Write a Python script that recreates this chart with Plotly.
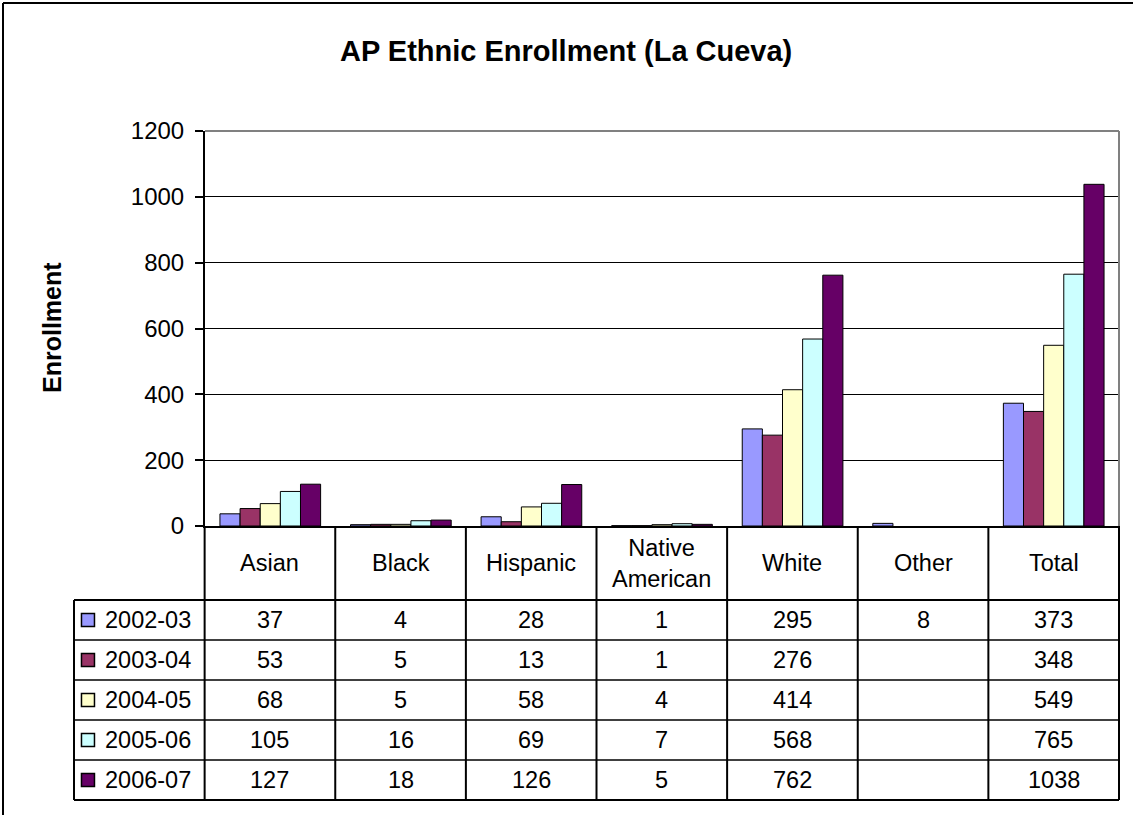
import plotly.graph_objects as go

# ---------------- data ----------------
categories = ["Asian", "Black", "Hispanic", "Native American", "White", "Other", "Total"]
years = ["2002-03", "2003-04", "2004-05", "2005-06", "2006-07"]
v2002_03 = [37, 4, 28, 1, 295, 8, 373]
v2003_04 = [53, 5, 13, 1, 276, None, 348]
v2004_05 = [68, 5, 58, 4, 414, None, 549]
v2005_06 = [105, 16, 69, 7, 568, None, 765]
v2006_07 = [127, 18, 126, 5, 762, None, 1038]
y_ticks = [0, 200, 400, 600, 800, 1000, 1200]

series = [v2002_03, v2003_04, v2004_05, v2005_06, v2006_07]
colors = ["#9999FF", "#993366", "#FFFFCC", "#CCFFFF", "#660066"]

W, H = 1133, 815
FONT = "Liberation Sans, Arial, sans-serif"

def px_x(p):
    return p / W

def px_y(p):
    return 1 - p / H

fig = go.Figure()

# ---------------- bars ----------------
for name, vals, col in zip(years, series, colors):
    fig.add_trace(go.Bar(
        x=categories, y=vals, name=name,
        marker=dict(color=col, line=dict(color="black", width=1)),
        showlegend=False, xaxis="x", yaxis="y",
    ))

# ---------------- table geometry (in table-axis units) ----------------
HEADER = 1.85          # header row height (row units)
n_rows = len(years)
row_top = [HEADER + r for r in range(n_rows)]
row_mid = [HEADER + r + 0.5 for r in range(n_rows)]
table_bottom = HEADER + n_rows
LEFT = -1.5            # left edge of legend column
KEY_X = -1.393
LABEL_X = -1.278

# legend keys
fig.add_trace(go.Scatter(
    x=[KEY_X] * n_rows, y=row_mid, mode="markers",
    marker=dict(symbol="square", size=13, color=colors,
                line=dict(color="black", width=1.5)),
    showlegend=False, hoverinfo="skip", xaxis="x2", yaxis="y2", cliponaxis=False,
))

shapes = []
ann = []

# horizontal table lines
for yv in [HEADER] + row_top[1:] + [table_bottom]:
    shapes.append(dict(type="line", xref="x2", yref="y2", x0=LEFT, x1=len(categories) - 0.5,
                       y0=yv, y1=yv, line=dict(color="black", width=2 if yv in (HEADER, table_bottom) else 1.5)))
# vertical table lines
for k in range(len(categories) + 1):
    shapes.append(dict(type="line", xref="x2", yref="y2", x0=k - 0.5, x1=k - 0.5,
                       y0=0, y1=table_bottom, line=dict(color="black", width=2)))
shapes.append(dict(type="line", xref="x2", yref="y2", x0=LEFT, x1=LEFT,
                   y0=HEADER, y1=table_bottom, line=dict(color="black", width=2)))

# plot-area gray border (top / right)
shapes.append(dict(type="line", xref="x domain", yref="y domain", x0=0, x1=1, y0=1, y1=1,
                   line=dict(color="#808080", width=2), layer="above"))
shapes.append(dict(type="line", xref="x domain", yref="y domain", x0=1, x1=1, y0=0, y1=1,
                   line=dict(color="#808080", width=2), layer="above"))

# outer chart border (left and top edges visible)
shapes.append(dict(type="line", xref="paper", yref="paper", x0=px_x(3), x1=1,
                   y0=px_y(3), y1=px_y(3), line=dict(color="black", width=2)))
shapes.append(dict(type="line", xref="paper", yref="paper", x0=px_x(3), x1=px_x(3),
                   y0=0, y1=px_y(3), line=dict(color="black", width=2)))

# header labels
for i, c in enumerate(categories):
    ann.append(dict(xref="x2", yref="y2", x=i, y=HEADER / 2, text=c.replace(" ", "<br>"),
                    showarrow=False, font=dict(family=FONT, size=23.5, color="black"),
                    xanchor="center", yanchor="middle"))
# data cells
for r, (name, vals) in enumerate(zip(years, series)):
    ann.append(dict(xref="x2", yref="y2", x=LABEL_X, y=row_mid[r], text=name,
                    showarrow=False, font=dict(family=FONT, size=23.5, color="black"),
                    xanchor="left", yanchor="middle"))
    for i, v in enumerate(vals):
        if v is None:
            continue
        ann.append(dict(xref="x2", yref="y2", x=i, y=row_mid[r], text=str(v),
                        showarrow=False, font=dict(family=FONT, size=23.5, color="black"),
                        xanchor="center", yanchor="middle"))

# title and y-axis title
ann.append(dict(xref="paper", yref="paper", x=px_x(566), y=px_y(51),
                text="AP Ethnic Enrollment (La Cueva)", showarrow=False,
                font=dict(family=FONT, size=29, color="black", weight="bold"),
                xanchor="center", yanchor="middle"))
ann.append(dict(xref="paper", yref="paper", x=px_x(52), y=px_y(328),
                text="Enrollment", showarrow=False, textangle=-90,
                font=dict(family=FONT, size=25, color="black", weight="bold"),
                xanchor="center", yanchor="middle"))

unit = 130.6
fig.update_layout(
    template="none",
    width=W, height=H, autosize=False,
    margin=dict(l=0, r=0, t=0, b=0, pad=0, autoexpand=False),
    paper_bgcolor="white", plot_bgcolor="rgba(0,0,0,0)",
    barmode="group", bargap=0.229, bargroupgap=0,
    showlegend=False,
    font=dict(family=FONT, color="black"),
    xaxis=dict(domain=[px_x(205), px_x(1119)], type="category", range=[-0.5, 6.5],
               showticklabels=False, ticks="", showgrid=False, zeroline=False, automargin=False,
               showline=True, linecolor="black", linewidth=2, anchor="y", fixedrange=True),
    yaxis=dict(domain=[px_y(526), px_y(131)], range=[0, 1200], tickvals=y_ticks,
               showgrid=True, gridcolor="black", gridwidth=1, zeroline=False, automargin=False,
               showline=True, linecolor="black", linewidth=2,
               ticks="outside", ticklen=8, tickwidth=2, tickcolor="black",
               ticklabelstandoff=6,
               tickfont=dict(family=FONT, size=24, color="black"), anchor="x", fixedrange=True),
    xaxis2=dict(domain=[px_x(68), px_x(1125)],
                range=[LEFT - 6 / unit, len(categories) - 0.5 + 6 / unit], automargin=False,
                showticklabels=False, ticks="", showgrid=False, zeroline=False, showline=False,
                anchor="y2", fixedrange=True),
    yaxis2=dict(domain=[px_y(806), px_y(520)], range=[(806 - 526) / 40, -6 / 40], automargin=False,
                showticklabels=False, ticks="", showgrid=False, zeroline=False, showline=False,
                anchor="x2", fixedrange=True),
    shapes=shapes, annotations=ann,
)

post = (
    "var de=document.documentElement,b=document.body;"
    "de.style.margin='0';de.style.padding='0';de.style.overflow='hidden';"
    "b.style.margin='0';b.style.padding='0';b.style.overflow='hidden';"
    "var gd=document.getElementById('{plot_id}');"
    "gd.style.position='fixed';gd.style.top='0px';gd.style.left='0px';"
)

fig.write_html(
    "out.html",
    config={"responsive": False, "displayModeBar": False},
    post_script=post,
)
